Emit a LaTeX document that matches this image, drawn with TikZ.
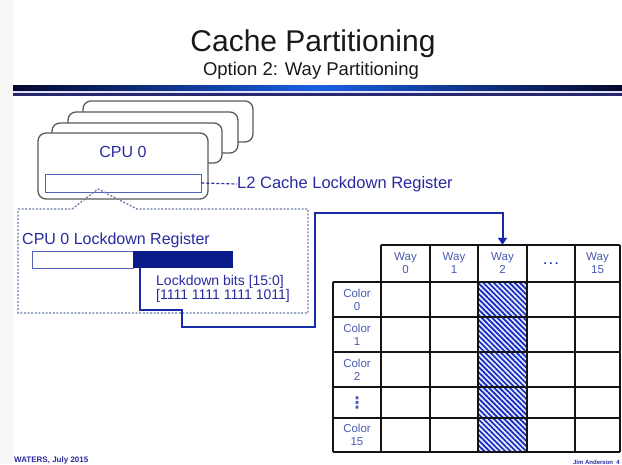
\documentclass[tikz,border=0pt]{standalone}
\usepackage{fontspec}
\setmainfont{Liberation Sans}
\newfontfamily\symfont{DejaVu Sans}
\usetikzlibrary{arrows.meta,patterns.meta}

\definecolor{txtblue}{RGB}{42,42,160}
\definecolor{celltxt}{RGB}{72,90,178}
\definecolor{linkblue}{RGB}{22,42,170}
\definecolor{bitsnavy}{RGB}{10,28,140}
\definecolor{barnavy}{RGB}{5,8,45}
\definecolor{barblue}{RGB}{25,95,225}
\definecolor{barthin}{RGB}{40,40,110}
\definecolor{boxgray}{RGB}{90,90,90}
\definecolor{regline}{RGB}{80,100,190}
\definecolor{dotline}{RGB}{110,125,168}
\definecolor{gridline}{RGB}{20,20,20}
\definecolor{hatchblue}{RGB}{20,40,190}
\definecolor{hatchbg}{RGB}{228,235,255}

\begin{document}
\begin{tikzpicture}[x=1pt,y=-1pt,
  cpubox/.style={draw=boxgray, line width=1.3pt, fill=white, rounded corners=8pt,
    inner sep=0pt, minimum width=170pt},
  regbox/.style={draw=regline, line width=0.9pt, fill=white, inner sep=0pt},
  callout/.style={draw=dotline, line width=1.3pt, dash pattern=on 2pt off 1.6pt},
  leader/.style={draw=txtblue, line width=1.2pt, dash pattern=on 3pt off 2pt},
  link/.style={draw=linkblue, line width=2pt},
  label/.style={text=txtblue, inner sep=0pt},
  cell/.style={inner sep=0pt, align=center, text=celltxt,
    font=\fontsize{11.5}{13}\selectfont},
  gridln/.style={draw=gridline, line width=2.2pt},
  footer/.style={text=txtblue, inner sep=0pt, font=\bfseries}]

\useasboundingbox (0,0) rectangle (622,464);
\fill[white] (0,0) rectangle (622,464);
\fill[gray!6] (0,0) rectangle (13,464);

% title block
\node[anchor=base, inner sep=0pt, text=black!90,
  font=\fontsize{30}{34}\selectfont] (title) at (313,51) {Cache Partitioning};
\node[anchor=base, inner sep=0pt, text=black!90,
  font=\fontsize{18.5}{22}\selectfont] (subtitle) at (311,75) {Option 2: Way Partitioning};

% header rule
\shade[left color=barnavy, right color=barnavy, middle color=barblue] (13,85) rectangle (622,91);
\fill[blue!12] (13,91) rectangle (622,93);
\fill[barthin] (13,93) rectangle (622,95.5);

% stacked processor boxes
\node[cpubox, minimum height=41pt] (cpu3) at (168,121.5) {};
\node[cpubox, minimum height=41pt] (cpu2) at (153,132.5) {};
\node[cpubox, minimum height=40pt] (cpu1) at (137,143) {};
\node[cpubox, minimum height=66pt] (cpu0) at (123,166) {};
\node[label, font=\fontsize{16}{18}\selectfont] (cpu0name) at (123,152) {CPU 0};
\node[regbox, minimum width=156pt, minimum height=18pt] (l2reg) at (123,183) {};

% leader to the register name
\node[label, anchor=west, font=\fontsize{16.5}{19}\selectfont] (l2name) at (237,184)
  {L2 Cache Lockdown Register};
\draw[leader] (l2reg.east) -- (l2name.west);

% dotted call-out with the register detail
\draw[callout] (18,209) -- (72,209) -- (98,189) -- (137,209) -- (308,209)
  -- (308,313) -- (18,313) -- cycle;
\node[label, anchor=west, font=\fontsize{16}{18}\selectfont] (lockname) at (22,240)
  {CPU 0 Lockdown Register};
\node[regbox, minimum width=101pt, minimum height=17pt] (regwhite) at (82.5,259.5) {};
\node[fill=bitsnavy, inner sep=0pt, minimum width=100pt, minimum height=17pt]
  (regbits) at (183,259.5) {};
\node[label, anchor=base west, font=\fontsize{14}{16}\selectfont] (bitsname) at (156,285)
  {Lockdown bits [15:0]};
\node[label, anchor=base west, font=\fontsize{14}{16}\selectfont] (bitsval) at (156,299)
  {[1111 1111 1111 1011]};

% cache table: highlighted way
\fill[hatchbg] (478,282) rectangle (527,452);
\fill[pattern={Lines[angle=-45,distance=3.7pt,line width=1.7pt]}, pattern color=hatchblue]
  (478,282) rectangle (527,452);

% column headers
\foreach \nm/\cx/\w/\t in {way0/405.5/49/{Way\\0}, way1/454/48/{Way\\1},
    way2/502.5/49/{Way\\2}, way15/597.5/45/{Way\\15}}
  \node[cell, minimum width=\w pt, minimum height=37pt] (\nm) at (\cx,263.5) {\t};
\node[cell, minimum width=48pt, minimum height=37pt, text=linkblue] (wayd) at (551,264)
  {\bfseries .\hspace{2.5pt}.\hspace{2.5pt}.};

% row labels
\foreach \nm/\cy/\t in {col0/299.5/{Color\\0}, col1/334.5/{Color\\1},
    col2/369.5/{Color\\2}, col15/435/{Color\\15}}
  \node[cell] (\nm) at (357,\cy) {\t};
\node[cell, font=\symfont\bfseries\fontsize{16}{16}\selectfont] (cold) at (357,402.5) {⋮};

% grid
\draw[gridln] (381,245) -- (620,245);
\foreach \y in {282,317,352,387,418,452}
  \draw[gridln] (333,\y) -- (620,\y);
\draw[gridln] (333,282) -- (333,452);
\foreach \x in {381,430,478,527,575,620}
  \draw[gridln] (\x,245) -- (\x,452);

% lockdown bits to the selected way
\draw[link, -{Triangle[width=9pt,length=7pt]}]
  ([xshift=7pt]regbits.south west) |- (182,310) |- (315,327) |- (way2.north |- 0,213)
  -- (way2.north);

% footer
\node[footer, anchor=base west, font=\bfseries\fontsize{8}{9}\selectfont] (venue) at (14,462.5)
  {WATERS, July 2015};
\node[footer, anchor=base east, font=\bfseries\fontsize{6}{7}\selectfont] (author) at (620,464)
  {Jim Anderson \ 4};
\end{tikzpicture}
\end{document}
